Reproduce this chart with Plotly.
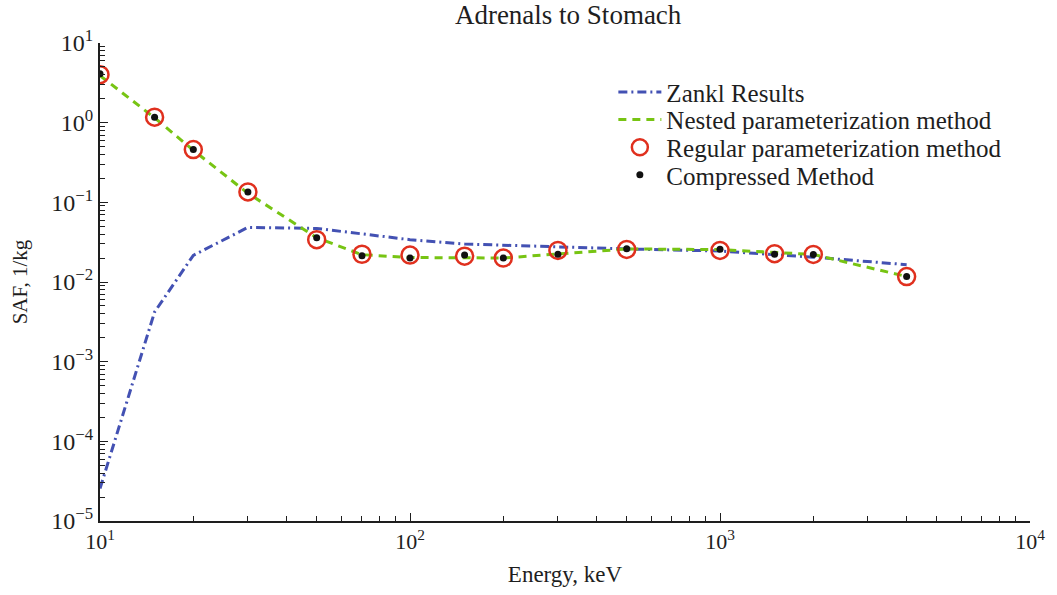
import plotly.graph_objects as go

# Data
zankl_energy = [10, 15, 20, 30, 50, 100, 150, 200, 300, 500, 1000, 1500, 2000, 4000]
zankl_saf = [2.55e-5, 4.2e-3, 0.0216, 0.0485, 0.047, 0.034, 0.030, 0.029, 0.0275, 0.026, 0.0245, 0.022, 0.0205, 0.0165]

energy = [10, 15, 20, 30, 50, 70, 100, 150, 200, 300, 500, 1000, 1500, 2000, 4000]
nested_saf = [3.9, 1.15, 0.45, 0.13, 0.036, 0.022, 0.0203, 0.020, 0.020, 0.0225, 0.026, 0.0255, 0.0235, 0.0222, 0.0117]
regular_saf = [4.0, 1.17, 0.46, 0.135, 0.034, 0.0223, 0.0218, 0.0211, 0.020, 0.0249, 0.0256, 0.0249, 0.0227, 0.0222, 0.0117]
compressed_saf = [4.1, 1.17, 0.46, 0.135, 0.036, 0.0213, 0.020, 0.0218, 0.020, 0.0223, 0.0261, 0.0257, 0.0223, 0.0222, 0.0117]

x_tickvals = [10, 100, 1000, 10000]
x_ticktext = ["10<sup>1</sup>", "10<sup>2</sup>", "10<sup>3</sup>", "10<sup>4</sup>"]
y_tickvals = [1e-5, 1e-4, 1e-3, 1e-2, 1e-1, 1, 10]
y_ticktext = ["10<sup>−5</sup>", "10<sup>−4</sup>", "10<sup>−3</sup>", "10<sup>−2</sup>",
              "10<sup>−1</sup>", "10<sup>0</sup>", "10<sup>1</sup>"]

FONT = "Liberation Serif, Times New Roman, serif"
INK = "#1e1e1e"

fig = go.Figure()
fig.add_trace(go.Scatter(x=zankl_energy, y=zankl_saf, mode="lines", name="Zankl Results",
                         legend="legend",
                         line=dict(color="#4351b3", width=3, dash="9px,4px,2px,4px")))
fig.add_trace(go.Scatter(x=energy, y=nested_saf, mode="lines", name="Nested parameterization method",
                         legend="legend2",
                         line=dict(color="#77c413", width=3, dash="8px,6px")))
fig.add_trace(go.Scatter(x=energy, y=regular_saf, mode="markers", name="Regular parameterization method",
                         legend="legend3",
                         marker=dict(symbol="circle-open", size=17, color="#e0301e",
                                     line=dict(width=2.5, color="#e0301e"))))
fig.add_trace(go.Scatter(x=energy, y=compressed_saf, mode="markers", name="Compressed Method",
                         legend="legend4",
                         marker=dict(symbol="circle", size=7, color="#111111")))

leg_common = dict(x=0.552, xanchor="left", yanchor="middle", bgcolor="rgba(0,0,0,0)",
                  font=dict(family=FONT, size=25, color=INK), itemwidth=43, borderwidth=0)
fig.update_layout(
    width=1057, height=595,
    margin=dict(l=100, r=20, t=43, b=67),
    paper_bgcolor="white", plot_bgcolor="white",
    font=dict(family=FONT, size=20, color=INK),
    title=dict(text="Adrenals to Stomach", x=0.5375, xanchor="center", y=0.975, yanchor="middle",
               font=dict(family=FONT, size=27, color=INK)),
    showlegend=True,
    legend=dict(y=0.8969, **leg_common),
    legend2=dict(y=0.8392, **leg_common),
    legend3=dict(y=0.7814, **leg_common),
    legend4=dict(y=0.7237, **leg_common),
)
fig.update_xaxes(type="log", range=[1, 4], showline=True, linecolor=INK, linewidth=2,
                 showgrid=False, zeroline=False, ticks="inside", ticklen=8, tickwidth=1.3,
                 tickcolor=INK, tickmode="array", tickvals=x_tickvals, ticktext=x_ticktext,
                 minor=dict(ticks="inside", ticklen=5, tickcolor=INK, tickwidth=1.2,
                            dtick="D1", showgrid=False),
                 title=dict(text="Energy, keV", font=dict(family=FONT, size=23), standoff=12),
                 tickfont=dict(family=FONT, size=22))
fig.update_yaxes(type="log", range=[-5, 1], showline=True, linecolor=INK, linewidth=2,
                 showgrid=False, zeroline=False, ticks="inside", ticklen=8, tickwidth=1.3,
                 tickcolor=INK, tickmode="array", tickvals=y_tickvals, ticktext=y_ticktext,
                 minor=dict(ticks="inside", ticklen=5, tickcolor=INK, tickwidth=1.2,
                            dtick="D1", showgrid=False),
                 title=dict(text="SAF, 1/kg", font=dict(family=FONT, size=21), standoff=18),
                 tickfont=dict(family=FONT, size=24))

fig.write_html("out.html")
